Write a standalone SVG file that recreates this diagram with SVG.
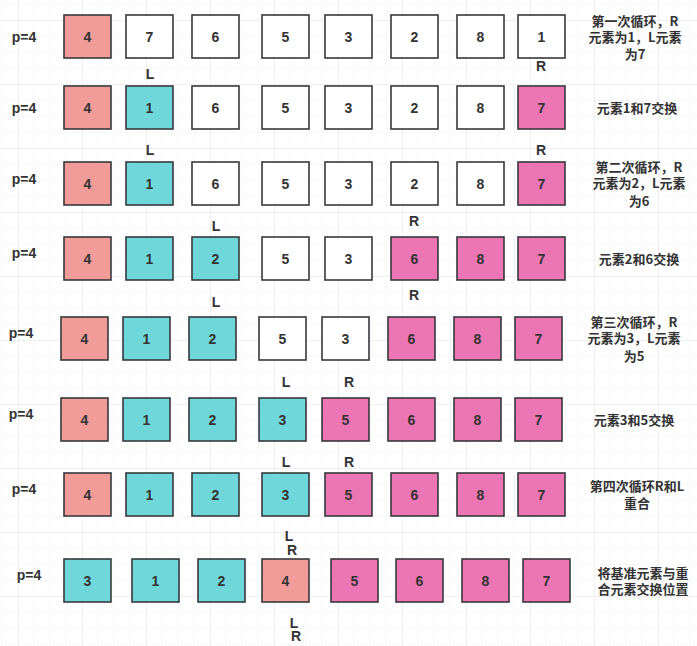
<svg xmlns="http://www.w3.org/2000/svg" width="697" height="646" viewBox="0 0 697 646">
<defs>
<pattern id="minor" x="2" y="4" width="16" height="16" patternUnits="userSpaceOnUse">
<path d="M0 0H16M0 0V16" fill="none" stroke="#f2f2f2" stroke-width="1"/>
</pattern>
<pattern id="major" x="18" y="20" width="64" height="64" patternUnits="userSpaceOnUse">
<path d="M0 0H64M0 0V64" fill="none" stroke="#e6e6e6" stroke-width="1"/>
</pattern>
</defs>
<style>
.b{stroke:#36393d;stroke-width:1.6}
.w{fill:#ffffff}.s{fill:#f19c99}.t{fill:#6fd7d9}.p{fill:#ec76b4}
text{font-family:"Noto Sans CJK SC","Liberation Sans",sans-serif;font-weight:bold;font-size:13px;fill:#333333;text-anchor:middle}
.n{font-family:"Liberation Sans","Noto Sans CJK SC",sans-serif;font-size:14px}
.lbl{font-family:"Liberation Sans",sans-serif;font-size:14px}
.note{font-size:12.5px}
</style>
<rect width="697" height="646" fill="#ffffff"/>
<rect width="697" height="646" fill="url(#minor)"/>
<rect width="697" height="646" fill="url(#major)"/>

<!-- Row 1 -->
<g id="row1">
<text class="lbl" x="24" y="42">p=4</text>
<g id="r1b1"><rect class="b s" x="64" y="15" width="47" height="43"/><text class="n" x="87.5" y="41.5">4</text></g>
<g id="r1b2"><rect class="b w" x="126" y="15" width="47" height="43"/><text class="n" x="149.5" y="41.5">7</text></g>
<g id="r1b3"><rect class="b w" x="192" y="15" width="47" height="43"/><text class="n" x="215.5" y="41.5">6</text></g>
<g id="r1b4"><rect class="b w" x="262" y="15" width="47" height="43"/><text class="n" x="285.5" y="41.5">5</text></g>
<g id="r1b5"><rect class="b w" x="325" y="15" width="47" height="43"/><text class="n" x="348.5" y="41.5">3</text></g>
<g id="r1b6"><rect class="b w" x="391" y="15" width="47" height="43"/><text class="n" x="414.5" y="41.5">2</text></g>
<g id="r1b7"><rect class="b w" x="457" y="15" width="47" height="43"/><text class="n" x="480.5" y="41.5">8</text></g>
<g id="r1b8"><rect class="b w" x="518" y="15" width="47" height="43"/><text class="n" x="541.5" y="41.5">1</text></g>
<text class="lbl" x="150" y="79">L</text>
<text class="lbl" x="541" y="71">R</text>
<g id="note1" class="note"><text x="635" y="26">第一次循环，R</text><text x="635" y="42">元素为1，L元素</text><text x="635" y="59">为7</text></g>
</g>

<!-- Row 2 -->
<g id="row2">
<text class="lbl" x="24" y="113">p=4</text>
<g id="r2b1"><rect class="b s" x="64" y="86" width="47" height="43"/><text class="n" x="87.5" y="112.5">4</text></g>
<g id="r2b2"><rect class="b t" x="126" y="86" width="47" height="43"/><text class="n" x="149.5" y="112.5">1</text></g>
<g id="r2b3"><rect class="b w" x="192" y="86" width="47" height="43"/><text class="n" x="215.5" y="112.5">6</text></g>
<g id="r2b4"><rect class="b w" x="262" y="86" width="47" height="43"/><text class="n" x="285.5" y="112.5">5</text></g>
<g id="r2b5"><rect class="b w" x="325" y="86" width="47" height="43"/><text class="n" x="348.5" y="112.5">3</text></g>
<g id="r2b6"><rect class="b w" x="391" y="86" width="47" height="43"/><text class="n" x="414.5" y="112.5">2</text></g>
<g id="r2b7"><rect class="b w" x="457" y="86" width="47" height="43"/><text class="n" x="480.5" y="112.5">8</text></g>
<g id="r2b8"><rect class="b p" x="518" y="86" width="47" height="43"/><text class="n" x="541.5" y="112.5">7</text></g>
<text class="lbl" x="150" y="155">L</text>
<text class="lbl" x="541" y="155">R</text>
<g id="note2" class="note"><text x="637" y="113">元素1和7交换</text></g>
</g>

<!-- Row 3 -->
<g id="row3">
<text class="lbl" x="24" y="184">p=4</text>
<g id="r3b1"><rect class="b s" x="64" y="162" width="47" height="43"/><text class="n" x="87.5" y="188.5">4</text></g>
<g id="r3b2"><rect class="b t" x="126" y="162" width="47" height="43"/><text class="n" x="149.5" y="188.5">1</text></g>
<g id="r3b3"><rect class="b w" x="192" y="162" width="47" height="43"/><text class="n" x="215.5" y="188.5">6</text></g>
<g id="r3b4"><rect class="b w" x="262" y="162" width="47" height="43"/><text class="n" x="285.5" y="188.5">5</text></g>
<g id="r3b5"><rect class="b w" x="325" y="162" width="47" height="43"/><text class="n" x="348.5" y="188.5">3</text></g>
<g id="r3b6"><rect class="b w" x="391" y="162" width="47" height="43"/><text class="n" x="414.5" y="188.5">2</text></g>
<g id="r3b7"><rect class="b w" x="457" y="162" width="47" height="43"/><text class="n" x="480.5" y="188.5">8</text></g>
<g id="r3b8"><rect class="b p" x="518" y="162" width="47" height="43"/><text class="n" x="541.5" y="188.5">7</text></g>
<text class="lbl" x="216" y="231">L</text>
<text class="lbl" x="414" y="226">R</text>
<g id="note3" class="note"><text x="639" y="172">第二次循环，R</text><text x="639" y="188">元素为2，L元素</text><text x="639" y="206">为6</text></g>
</g>

<!-- Row 4 -->
<g id="row4">
<text class="lbl" x="24" y="258">p=4</text>
<g id="r4b1"><rect class="b s" x="64" y="237" width="47" height="43"/><text class="n" x="87.5" y="263.5">4</text></g>
<g id="r4b2"><rect class="b t" x="126" y="237" width="47" height="43"/><text class="n" x="149.5" y="263.5">1</text></g>
<g id="r4b3"><rect class="b t" x="192" y="237" width="47" height="43"/><text class="n" x="215.5" y="263.5">2</text></g>
<g id="r4b4"><rect class="b w" x="262" y="237" width="47" height="43"/><text class="n" x="285.5" y="263.5">5</text></g>
<g id="r4b5"><rect class="b w" x="325" y="237" width="47" height="43"/><text class="n" x="348.5" y="263.5">3</text></g>
<g id="r4b6"><rect class="b p" x="391" y="237" width="47" height="43"/><text class="n" x="414.5" y="263.5">6</text></g>
<g id="r4b7"><rect class="b p" x="457" y="237" width="47" height="43"/><text class="n" x="480.5" y="263.5">8</text></g>
<g id="r4b8"><rect class="b p" x="518" y="237" width="47" height="43"/><text class="n" x="541.5" y="263.5">7</text></g>
<text class="lbl" x="216" y="307">L</text>
<text class="lbl" x="414" y="300">R</text>
<g id="note4" class="note"><text x="639" y="264">元素2和6交换</text></g>
</g>

<!-- Row 5 -->
<g id="row5">
<text class="lbl" x="21" y="338">p=4</text>
<g id="r5b1"><rect class="b s" x="61" y="317" width="47" height="43"/><text class="n" x="84.5" y="343.5">4</text></g>
<g id="r5b2"><rect class="b t" x="123" y="317" width="47" height="43"/><text class="n" x="146.5" y="343.5">1</text></g>
<g id="r5b3"><rect class="b t" x="189" y="317" width="47" height="43"/><text class="n" x="212.5" y="343.5">2</text></g>
<g id="r5b4"><rect class="b w" x="259" y="317" width="47" height="43"/><text class="n" x="282.5" y="343.5">5</text></g>
<g id="r5b5"><rect class="b w" x="322" y="317" width="47" height="43"/><text class="n" x="345.5" y="343.5">3</text></g>
<g id="r5b6"><rect class="b p" x="388" y="317" width="47" height="43"/><text class="n" x="411.5" y="343.5">6</text></g>
<g id="r5b7"><rect class="b p" x="454" y="317" width="47" height="43"/><text class="n" x="477.5" y="343.5">8</text></g>
<g id="r5b8"><rect class="b p" x="515" y="317" width="47" height="43"/><text class="n" x="538.5" y="343.5">7</text></g>
<text class="lbl" x="286" y="387">L</text>
<text class="lbl" x="349" y="387">R</text>
<g id="note5" class="note"><text x="634" y="327">第三次循环，R</text><text x="634" y="343">元素为3，L元素</text><text x="634" y="361">为5</text></g>
</g>

<!-- Row 6 -->
<g id="row6">
<text class="lbl" x="21" y="419">p=4</text>
<g id="r6b1"><rect class="b s" x="61" y="398" width="47" height="43"/><text class="n" x="84.5" y="424.5">4</text></g>
<g id="r6b2"><rect class="b t" x="123" y="398" width="47" height="43"/><text class="n" x="146.5" y="424.5">1</text></g>
<g id="r6b3"><rect class="b t" x="189" y="398" width="47" height="43"/><text class="n" x="212.5" y="424.5">2</text></g>
<g id="r6b4"><rect class="b t" x="259" y="398" width="47" height="43"/><text class="n" x="282.5" y="424.5">3</text></g>
<g id="r6b5"><rect class="b p" x="322" y="398" width="47" height="43"/><text class="n" x="345.5" y="424.5">5</text></g>
<g id="r6b6"><rect class="b p" x="388" y="398" width="47" height="43"/><text class="n" x="411.5" y="424.5">6</text></g>
<g id="r6b7"><rect class="b p" x="454" y="398" width="47" height="43"/><text class="n" x="477.5" y="424.5">8</text></g>
<g id="r6b8"><rect class="b p" x="515" y="398" width="47" height="43"/><text class="n" x="538.5" y="424.5">7</text></g>
<text class="lbl" x="286" y="467">L</text>
<text class="lbl" x="349" y="467">R</text>
<g id="note6" class="note"><text x="634" y="425">元素3和5交换</text></g>
</g>

<!-- Row 7 -->
<g id="row7">
<text class="lbl" x="24" y="494">p=4</text>
<g id="r7b1"><rect class="b s" x="64" y="473" width="47" height="43"/><text class="n" x="87.5" y="499.5">4</text></g>
<g id="r7b2"><rect class="b t" x="126" y="473" width="47" height="43"/><text class="n" x="149.5" y="499.5">1</text></g>
<g id="r7b3"><rect class="b t" x="192" y="473" width="47" height="43"/><text class="n" x="215.5" y="499.5">2</text></g>
<g id="r7b4"><rect class="b t" x="262" y="473" width="47" height="43"/><text class="n" x="285.5" y="499.5">3</text></g>
<g id="r7b5"><rect class="b p" x="325" y="473" width="47" height="43"/><text class="n" x="348.5" y="499.5">5</text></g>
<g id="r7b6"><rect class="b p" x="391" y="473" width="47" height="43"/><text class="n" x="414.5" y="499.5">6</text></g>
<g id="r7b7"><rect class="b p" x="457" y="473" width="47" height="43"/><text class="n" x="480.5" y="499.5">8</text></g>
<g id="r7b8"><rect class="b p" x="518" y="473" width="47" height="43"/><text class="n" x="541.5" y="499.5">7</text></g>
<text class="lbl" x="289" y="541">L</text>
<text class="lbl" x="292" y="555">R</text>
<g id="note7" class="note"><text x="637" y="491">第四次循环R和L</text><text x="637" y="508">重合</text></g>
</g>

<!-- Row 8 -->
<g id="row8">
<text class="lbl" x="29" y="580">p=4</text>
<g id="r8b1"><rect class="b t" x="64" y="559" width="47" height="43"/><text class="n" x="87.5" y="585.5">3</text></g>
<g id="r8b2"><rect class="b t" x="132" y="559" width="47" height="43"/><text class="n" x="155.5" y="585.5">1</text></g>
<g id="r8b3"><rect class="b t" x="198" y="559" width="47" height="43"/><text class="n" x="221.5" y="585.5">2</text></g>
<g id="r8b4"><rect class="b s" x="262" y="559" width="47" height="43"/><text class="n" x="285.5" y="585.5">4</text></g>
<g id="r8b5"><rect class="b p" x="331" y="559" width="47" height="43"/><text class="n" x="354.5" y="585.5">5</text></g>
<g id="r8b6"><rect class="b p" x="396" y="559" width="47" height="43"/><text class="n" x="419.5" y="585.5">6</text></g>
<g id="r8b7"><rect class="b p" x="462" y="559" width="47" height="43"/><text class="n" x="485.5" y="585.5">8</text></g>
<g id="r8b8"><rect class="b p" x="523" y="559" width="47" height="43"/><text class="n" x="546.5" y="585.5">7</text></g>
<text class="lbl" x="294" y="628">L</text>
<text class="lbl" x="296" y="641">R</text>
<g id="note8" class="note"><text x="643" y="578">将基准元素与重</text><text x="643" y="594">合元素交换位置</text></g>
</g>
</svg>
